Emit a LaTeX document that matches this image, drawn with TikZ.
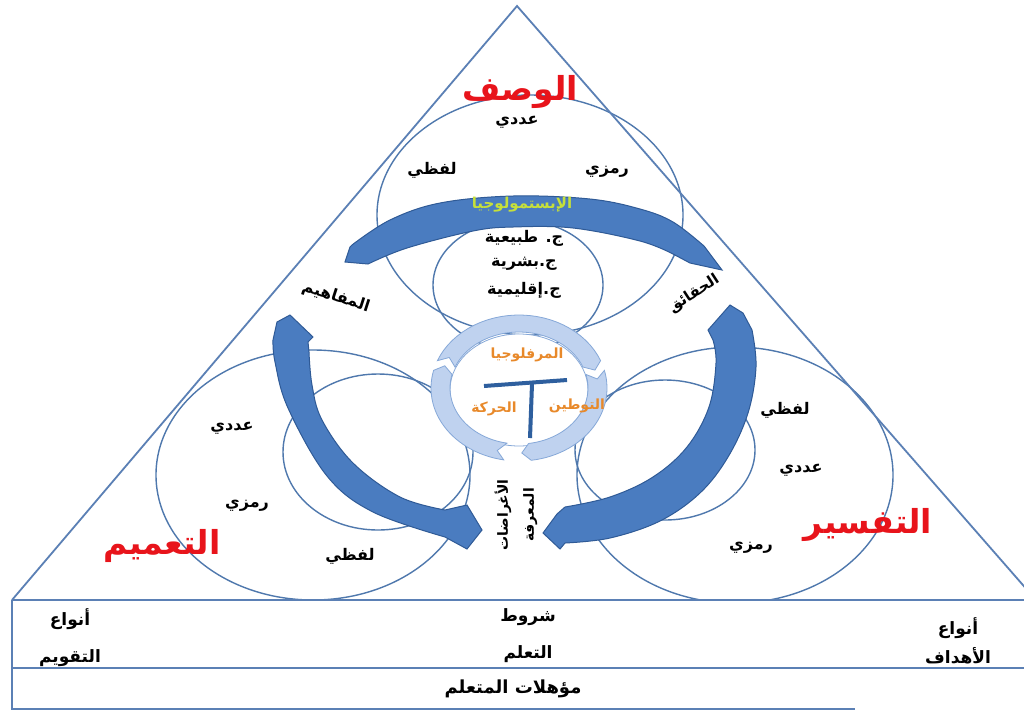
\documentclass[tikz,border=0pt]{standalone}
\usepackage{fontspec}
\TeXXeTstate=1
\newfontfamily\arfont[Script=Arabic]{DejaVu Sans}
\newcommand{\artxt}[1]{\arfont\beginR #1\endR}
\definecolor{lineblue}{HTML}{5B80B5}
\definecolor{petal}{HTML}{4F78AD}
\definecolor{arcfill}{HTML}{4A7CC0}
\definecolor{arcline}{HTML}{2F5A96}
\definecolor{ringfill}{HTML}{BFD2EF}
\definecolor{ringline}{HTML}{86A8D8}
\definecolor{tbar}{HTML}{2E5F9E}
\definecolor{titlered}{HTML}{E8141B}
\definecolor{episte}{HTML}{C6E03A}
\definecolor{orangetxt}{HTML}{E8892A}
\tikzset{
  petalline/.style={draw=petal, line width=1.4pt},
  frame/.style={draw=lineblue, line width=1.8pt},
  bigarc/.style={fill=arcfill, draw=arcline, line width=1pt},
  ringseg/.style={fill=ringfill, draw=ringline, line width=0.8pt},
  lbl/.style={inner sep=1pt, font=\bfseries\fontsize{16}{19}\selectfont, text=black},
  title/.style={inner sep=1pt, font=\bfseries\fontsize{33}{36}\selectfont, text=titlered},
  orng/.style={inner sep=1pt, font=\bfseries\fontsize{14}{16}\selectfont, text=orangetxt},
  boxlbl/.style={inner sep=1pt, align=center, font=\bfseries\fontsize{17}{37}\selectfont, text=black},
}
\begin{document}
\begin{tikzpicture}[x=1pt,y=-1pt]
\useasboundingbox (0,0) rectangle (1024,713);
\fill[white] (0,0) rectangle (1024,713);

% petals
\draw[petalline] (530,215) ellipse [x radius=153, y radius=120];
\draw[petalline] (518,285) ellipse [x radius=85, y radius=65];
\draw[petalline] (313,475) ellipse [x radius=157, y radius=125];
\draw[petalline] (378,452) ellipse [x radius=95, y radius=78];
\draw[petalline] (735,475) ellipse [x radius=158, y radius=128];
\draw[petalline] (665,450) ellipse [x radius=90, y radius=70];

% triangle and bottom box
\draw[frame] (12,600) -- (517,6) -- (1036,600);
\fill[white] (12,601) rectangle (1030,712);
\draw[frame] (12,600) -- (1030,600);
\draw[frame] (12,600) -- (12,709) -- (855,709);
\draw[frame] (12,668) -- (1030,668);

% center
\fill[white, draw=ringline, line width=0.8pt] (519,390) ellipse [x radius=69, y radius=56];
\path[ringseg] plot[domain=202:338, samples=30] ({519+88*cos(\x)},{388+73*sin(\x)})
  -- ({519+79*cos(344)},{388+65*sin(344)})
  -- plot[domain=338:202, samples=30] ({519+69*cos(\x)},{388+56*sin(\x)})
  -- ({519+79*cos(208)},{388+65*sin(208)}) -- cycle;
\path[ringseg] plot[domain=100:194, samples=30] ({519+88*cos(\x)},{388+73*sin(\x)})
  -- ({519+79*cos(200)},{388+65*sin(200)})
  -- plot[domain=194:100, samples=30] ({519+69*cos(\x)},{388+56*sin(\x)})
  -- ({519+79*cos(106)},{388+65*sin(106)}) -- cycle;
\path[ringseg] plot[domain=-14:82, samples=30] ({519+88*cos(\x)},{388+73*sin(\x)})
  -- ({519+79*cos(88)},{388+65*sin(88)})
  -- plot[domain=82:-14, samples=30] ({519+69*cos(\x)},{388+56*sin(\x)})
  -- ({519+79*cos(-8)},{388+65*sin(-8)}) -- cycle;

% T
\draw[tbar, line width=4pt] (484,386) -- (567,380);
\draw[tbar, line width=4pt] (532,384) -- (530,438);

% big arcs
\path[bigarc] (290,315) -- (313,337) -- (308,342)
  -- plot[smooth, tension=0.6] coordinates {(309,352) (312,385) (322,420) (353,463) (400,497) (445,510)}
  -- (467,505) -- (482,530) -- (467,549)
  -- plot[smooth, tension=0.6] coordinates {(445,537) (373,512) (327,476) (288,408) (275,362) (273,340)}
  -- (277,322) -- cycle;
\path[bigarc] (730,305) -- (743,313)
  -- plot[smooth, tension=0.6] coordinates {(752,330) (756,367) (748,413) (728,457) (700,493) (660,521) (610,538) (565,543)}
  -- (560,549) -- (543,533) -- (557,514)
  -- plot[smooth, tension=0.6] coordinates {(565,507) (610,497) (653,477) (687,447) (709,407) (716,363) (713,340)}
  -- (708,330) -- cycle;
\path[bigarc] (350,247)
  -- plot[smooth, tension=0.6] coordinates {(352,245) (390,220) (440,203) (513,196) (590,199) (640,209) (673,222) (704,246)}
  -- (722,270) -- (690,263)
  -- plot[smooth, tension=0.6] coordinates {(673,254) (640,241) (573,228) (513,227) (473,231) (407,248) (368,264)}
  -- (345,262) -- cycle;

% texts top petal
\node[title] (wasf) at (520,92) {\artxt{الوصف}};
\node[lbl] (t1) at (517,122) {\artxt{عددي}};
\node[lbl] (t2) at (432,170) {\artxt{لفظي}};
\node[lbl] (t3) at (607,172) {\artxt{رمزي}};
\node[inner sep=1pt, font=\bfseries\fontsize{15}{17}\selectfont, text=episte] (epi) at (522,205) {\artxt{الإبستمولوجيا}};
\node[lbl] (g1) at (524,238) {\artxt{ج. طبيعية}};
\node[lbl] (g2) at (524,264) {\artxt{ج.بشرية}};
\node[lbl] (g3) at (524,290) {\artxt{ج.إقليمية}};
\node[lbl, rotate=-18] (mafahim) at (336,297) {\artxt{المفاهيم}};
\node[lbl, rotate=33, font=\bfseries\fontsize{15}{18}\selectfont] (haqaiq) at (694,294) {\artxt{الحقائق}};

% center texts
\node[orng] (morph) at (527,355) {\artxt{المرفلوجيا}};
\node[orng] (tawtin) at (577,406) {\artxt{التوطين}};
\node[orng] (haraka) at (494,409) {\artxt{الحركة}};

% left petal
\node[lbl] (l1) at (232,428) {\artxt{عددي}};
\node[lbl] (l2) at (247,506) {\artxt{رمزي}};
\node[lbl] (l3) at (350,556) {\artxt{لفظي}};
\node[title] (taamim) at (162,546) {\artxt{التعميم}};

% right petal
\node[lbl] (r1) at (785,410) {\artxt{لفظي}};
\node[lbl] (r2) at (801,470) {\artxt{عددي}};
\node[lbl] (r3) at (751,548) {\artxt{رمزي}};
\node[title] (tafsir) at (868,525) {\artxt{التفسير}};

% vertical text
\node[lbl, rotate=90, align=center, font=\bfseries\fontsize{14}{26}\selectfont] (vert) at (516,515) {\artxt{الأغراضات}\\\artxt{المعرفة}};

% bottom box texts
\node[boxlbl] (b1) at (70,638) {\artxt{أنواع}\\\artxt{التقويم}};
\node[boxlbl] (b2) at (528,636) {\artxt{شروط}\\\artxt{التعلم}};
\node[boxlbl, font=\bfseries\fontsize{17}{29}\selectfont] (b3) at (958,641) {\artxt{أنواع}\\\artxt{الأهداف}};
\node[lbl, font=\bfseries\fontsize{18}{20}\selectfont] (b4) at (513,689) {\artxt{مؤهلات المتعلم}};
\end{tikzpicture}
\end{document}
